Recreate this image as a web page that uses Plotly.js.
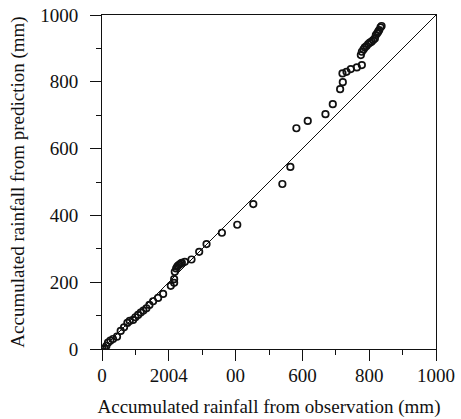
<!DOCTYPE html>
<html>
<head>
<meta charset="utf-8">
<script src="https://cdn.plot.ly/plotly-3.0.1.min.js"></script>
<style>html,body{margin:0;padding:0;background:#fff}#chart{width:461px;height:419px}</style>
</head>
<body>
<div id="chart"></div>
<script>
var observed = [2,8,13,18,25,33,45,56,66,76,83,93,100,108,116,124,133,142,153,168,183,206,216,
  216,218,222,225,228,232,236,239,248,268,291,313,359,405,453,540,564,582,616,669,691,713,721,
  720,732,745,763,778,775,778,783,787,792,797,802,807,812,817,820,824,827,830,834,837];
var predicted = [0,2,9,19,25,30,37,54,65,78,84,87,95,102,109,115,122,132,143,153,165,189,198,
  209,231,241,246,250,253,256,258,261,268,291,314,348,372,434,494,545,661,683,703,733,778,799,
  825,830,838,843,850,880,890,897,903,907,913,917,920,925,930,940,945,950,955,963,967];
var lineX = [0, 1000];
var lineY = [0, 1000];
var tickVals = [0, 200, 400, 600, 800, 1000];
var xTickText = ["0", "2004", "00", "600", "800", "1000"];
var yTickText = ["0", "200", "400", "600", "800", "1000"];

var font = {family: "Liberation Serif, Times New Roman, serif", size: 19, color: "#111"};

var traces = [
  {x: lineX, y: lineY, mode: "lines", line: {color: "#111", width: 1}, hoverinfo: "skip", showlegend: false},
  {x: observed, y: predicted, mode: "markers", showlegend: false,
   marker: {symbol: "circle-open", size: 6.5, color: "#111", line: {width: 1.7, color: "#111"}}}
];

var axisCommon = {
  range: [0, 1000], tickmode: "array", tickvals: tickVals,
  ticks: "outside", ticklen: 11, tickwidth: 1, tickcolor: "#111",
  showline: true, linecolor: "#111", linewidth: 1, mirror: true,
  showgrid: false, zeroline: false, tickfont: font,
  minor: {ticks: "outside", ticklen: 5, tickwidth: 1, tickcolor: "#111", dtick: 100, showgrid: false}
};

var layout = {
  width: 461, height: 419,
  margin: {l: 102, r: 25, t: 15, b: 70},
  paper_bgcolor: "#fff", plot_bgcolor: "#fff",
  font: font,
  xaxis: Object.assign({}, axisCommon, {ticktext: xTickText, ticklabelstandoff: -2,
    title: {text: "Accumulated rainfall from observation (mm)", font: font, standoff: 14}}),
  yaxis: Object.assign({}, axisCommon, {ticktext: yTickText, ticklabelstandoff: 8,
    title: {text: "Accumulated rainfall from prediction (mm)", font: font, standoff: 10}}),
  showlegend: false
};

Plotly.newPlot("chart", traces, layout, {staticPlot: true, displayModeBar: false});
</script>
</body>
</html>
